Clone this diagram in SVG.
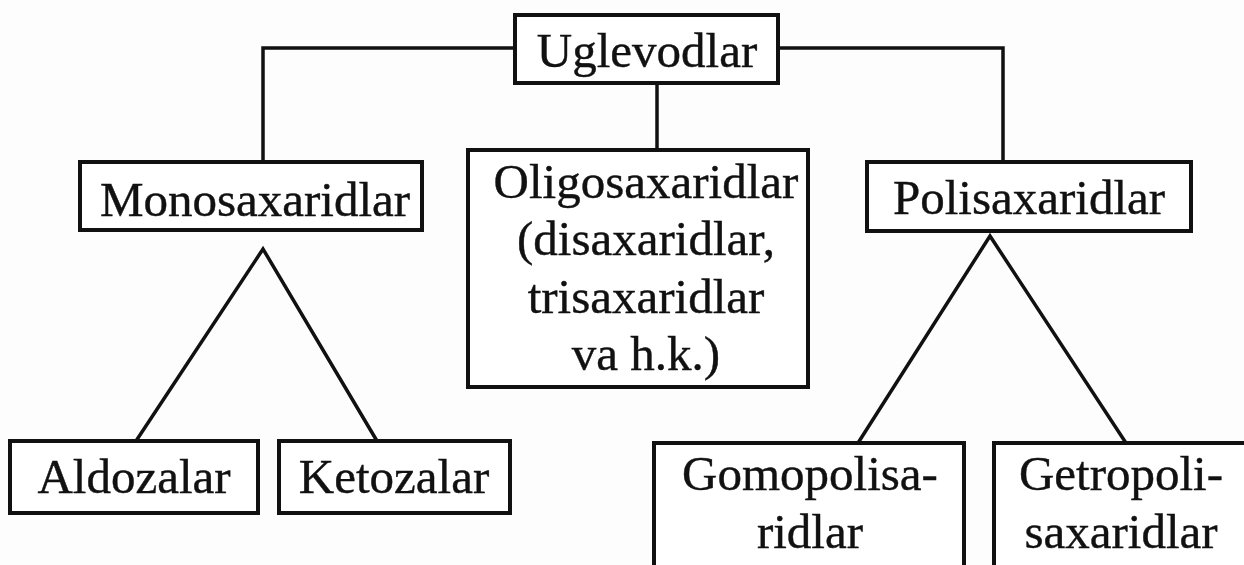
<svg xmlns="http://www.w3.org/2000/svg" width="1244" height="565" viewBox="0 0 1244 565">
<style>
.box{fill:#fff;stroke:#111;stroke-width:4}
.ln{fill:none;stroke:#111;stroke-width:3.5}
text{font-family:"Liberation Serif","Times New Roman",serif;font-size:49px;fill:#111;text-anchor:middle;stroke:#111;stroke-width:0.4}
</style>
<rect width="1244" height="565" fill="#fdfdfd"/>
<g id="connectors">
<polyline class="ln" points="515,48 263,48 263,162"/>
<polyline class="ln" points="778,48 1003,48 1003,162"/>
<line class="ln" x1="657" y1="83" x2="657" y2="150"/>
<polyline class="ln" points="136,441 263,249 377,441"/>
<polyline class="ln" points="858,443 990,236 1126,443"/>
</g>
<g id="uglevodlar"><rect class="box" x="515" y="15" width="263" height="68"/><text x="647" y="67">Uglevodlar</text></g>
<g id="monosaxaridlar"><rect class="box" x="80" y="162" width="342" height="68"/><text x="255" y="216">Monosaxaridlar</text></g>
<g id="oligosaxaridlar"><rect class="box" x="468" y="150" width="340" height="237"/>
<text x="646" y="198">Oligosaxaridlar</text><text x="646" y="255">(disaxaridlar,</text><text x="646" y="313">trisaxaridlar</text><text x="646" y="370">va h.k.)</text></g>
<g id="polisaxaridlar"><rect class="box" x="867" y="162" width="324" height="69"/><text x="1029" y="214">Polisaxaridlar</text></g>
<g id="aldozalar"><rect class="box" x="10" y="441" width="248" height="72"/><text x="134" y="493">Aldozalar</text></g>
<g id="ketozalar"><rect class="box" x="279" y="441" width="231" height="72"/><text x="394" y="493">Ketozalar</text></g>
<g id="gomopolisaridlar"><rect class="box" x="654" y="443" width="310" height="140"/><text x="810" y="490">Gomopolisa-</text><text x="810" y="548">ridlar</text></g>
<g id="getropolisaxaridlar"><rect class="box" x="994" y="443" width="270" height="140"/><text x="1121" y="490">Getropoli-</text><text x="1121" y="548">saxaridlar</text></g>
</svg>
